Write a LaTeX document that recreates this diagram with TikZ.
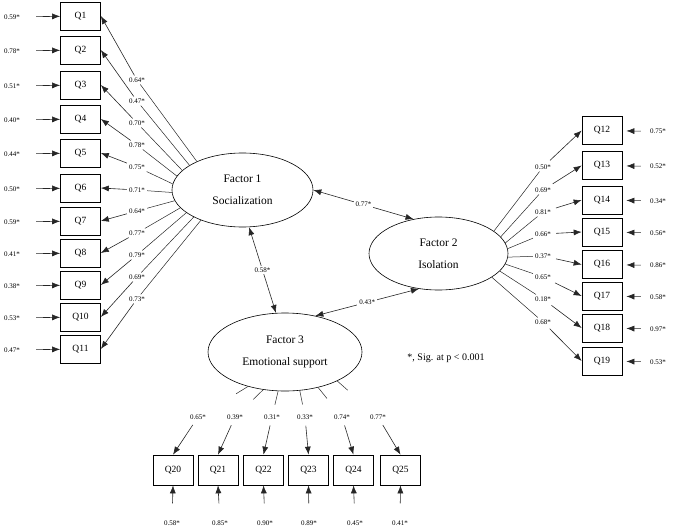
\documentclass[tikz,border=0pt]{standalone}
\usepackage{fontspec}
\setmainfont{Liberation Serif}
\usepackage{tikz}
\usetikzlibrary{positioning,arrows.meta,shapes.geometric,calc}

\begin{document}
\begin{tikzpicture}[
  x=1pt,y=-1pt,
  item/.style={draw=black,line width=0.7pt,minimum width=40,minimum height=28,
               inner sep=1pt,font=\fontsize{9.5}{11}\selectfont},
  factor/.style={draw=black,ellipse,line width=0.6pt,inner sep=0pt,align=center,
                 font=\fontsize{11.5}{21.5}\selectfont},
  coef/.style={font=\fontsize{7}{8}\selectfont,inner sep=2pt},
  ln/.style={draw=black!85,line width=0.5pt},
  arr/.style={-{Latex[length=8pt,width=6pt]},draw=black!85,line width=0.6pt},
  corr/.style={{Latex[length=8pt,width=6pt]}-{Latex[length=8pt,width=6pt]},
               draw=black!85,line width=0.6pt},
]
\useasboundingbox (0,0) rectangle (674,527);

% latent factors
\node[factor,minimum width=141,minimum height=74] (f1) at (242.5,190) {Factor 1\\Socialization};
\node[factor,minimum width=139,minimum height=73] (f2) at (438.5,253.5) {Factor 2\\Isolation};
\node[factor,minimum width=154,minimum height=78] (f3) at (285,352) {Factor 3\\Emotional support};

% correlations between factors
\draw[corr] (f1.0) -- node[coef,fill=white]{0.77*} (f2.126);
\draw[corr] (f1.280) -- node[coef,fill=white]{0.58*} (f3.103);
\draw[corr] (f2.241) -- node[coef,fill=white]{0.43*} (f3.50);

% LEFT: items of factor 1
\foreach \i/\yy/\err/\ly/\lo/\ang in {1/16/0.59/80/0.64/148, 2/50/0.78/101/0.47/155,
    3/85/0.51/123/0.70/162, 4/119/0.40/145/0.78/168, 5/153/0.44/167/0.75/175,
    6/188/0.50/190/0.71/182, 7/221/0.59/211/0.64/189, 8/253/0.41/233/0.77/196,
    9/285/0.38/255/0.79/202, 10/317/0.53/277/0.69/209, 11/349/0.47/299/0.73/216}{
  \node[item] (q\i) at (80.5,\yy) {Q\i};
  \node[coef] (e\i) at (12,\yy+1) {\err*};
  \node[coef] (l\i) at (137,\ly) {\lo*};
  \draw[arr,shorten <=14pt] (e\i) -- (q\i);
  \draw[arr] (l\i) -- (q\i.east);
  \draw[ln] (l\i) -- (f1.\ang);
}

% RIGHT: items of factor 2
\foreach \i/\yy/\err/\ly/\lo/\ang in {12/130.5/0.75/167/0.50/22, 13/165.5/0.52/190/0.69/15,
    14/200/0.34/212/0.81/9, 15/232/0.56/234/0.66/4, 16/264.5/0.86/256/0.37/-3,
    17/296/0.58/277/0.65/-9, 18/328/0.97/299/0.18/-16, 19/361/0.53/322/0.68/-24}{
  \node[item] (q\i) at (602,\yy) {Q\i};
  \node[coef] (e\i) at (658,\yy+1) {\err*};
  \node[coef] (l\i) at (543,\ly) {\lo*};
  \draw[arr,shorten <=7pt,shorten >=4pt] (e\i) -- (q\i);
  \draw[arr,shorten <=3pt] (l\i) -- (q\i.west);
  \draw[ln] (f2.\ang) -- (l\i);
}

% BOTTOM: items of factor 3
\foreach \i/\x/\ex/\err/\lx/\lo/\ang in {20/173/172/0.58/198/0.65/223, 21/218/220/0.85/235/0.39/240,
    22/263.5/265/0.90/272/0.31/260, 23/308.5/309/0.89/305/0.33/291,
    24/353.5/355/0.45/342/0.74/313, 25/400.5/400/0.41/378/0.77/331}{
  \node[item,minimum height=30] (q\i) at (\x,470) {Q\i};
  \node[coef] (e\i) at (\ex,523) {\err*};
  \node[coef] (l\i) at (\lx,417) {\lo*};
  \draw[arr,shorten <=15pt] (e\i) -- (q\i.south);
  \draw[arr,shorten <=4pt] (l\i) -- (q\i.north);
  \draw[ln] (f3.\ang) -- ($(f3.\ang)!14pt!(l\i)$);
}

\node[font=\fontsize{10}{12}\selectfont] (note) at (446,358) {*, Sig. at p \textless{} 0.001};
\end{tikzpicture}
\end{document}
